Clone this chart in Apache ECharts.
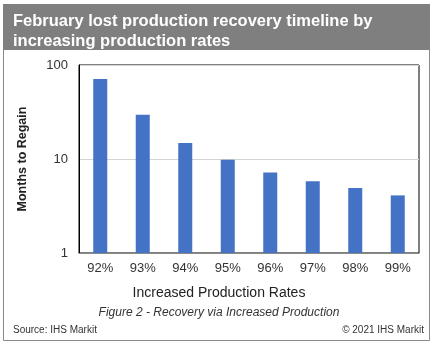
<!DOCTYPE html>
<html>
<head>
<meta charset="utf-8">
<style>
    html, body { margin: 0; padding: 0; background: #fff; }
    #chart { width: 438px; height: 351px; }
</style>
<script src="https://cdn.jsdelivr.net/npm/echarts@6/dist/echarts.min.js"></script>
</head>
<body>
<div id="chart"></div>
<script>
    // data
    var rates = ["92%", "93%", "94%", "95%", "96%", "97%", "98%", "99%"];
    var months = [71, 29.5, 14.8, 9.8, 7.2, 5.8, 4.9, 4.1];

    var font = "Liberation Sans, Arial, sans-serif";
    var myChart = echarts.init(document.getElementById('chart'));

    myChart.setOption({
        animation: false,
        textStyle: { fontFamily: font },
        graphic: [
            // outer frame
            { type: 'rect', shape: { x: 3.5, y: 4.5, width: 426, height: 336 },
              style: { fill: 'none', stroke: '#8a8a8a', lineWidth: 1 }, z: 0 },
            // grey title band
            { type: 'rect', shape: { x: 3, y: 4, width: 427, height: 46 },
              style: { fill: '#7f7f7f' }, z: 1 }
        ],
        title: [
            {
                text: "February lost production recovery timeline by\nincreasing production rates",
                left: 8, top: 6,
                textStyle: { color: "#fff", fontSize: 16.5, fontWeight: "bold", lineHeight: 20, fontFamily: font }
            },
            {
                // x axis title, centred on the whole figure
                text: "Increased Production Rates",
                left: 'center', top: 281,
                textStyle: { color: "#222", fontSize: 14, fontWeight: "normal", fontFamily: font }
            },
            {
                text: "Figure 2 - Recovery via Increased Production",
                left: 'center', top: 302,
                textStyle: { color: "#333", fontSize: 12, fontStyle: "italic", fontWeight: "normal", fontFamily: font }
            },
            {
                text: "Source: IHS Markit",
                left: 8, top: 320,
                textStyle: { color: "#333", fontSize: 10, fontWeight: "normal", fontFamily: font }
            },
            {
                text: "© 2021 IHS Markit",
                right: 9, top: 320,
                textStyle: { color: "#333", fontSize: 10, fontWeight: "normal", fontFamily: font }
            }
        ],
        grid: {
            left: 79, top: 65, right: 19, bottom: 98,
            show: true, borderColor: "#000", borderWidth: 1, backgroundColor: "transparent"
        },
        xAxis: {
            type: "category",
            data: rates,
            axisLine: { lineStyle: { color: "#888" } },
            axisTick: { show: false },
            axisLabel: { fontSize: 13, color: "#333", margin: 9 }
        },
        yAxis: {
            type: "log",
            logBase: 10,
            min: 1,
            max: 100,
            name: "Months to Regain",
            nameLocation: "middle",
            nameGap: 50,
            nameTextStyle: { fontSize: 12.5, fontWeight: "bold", color: "#222" },
            axisLine: { show: true, lineStyle: { color: "#000" } },
            axisTick: { show: false },
            axisLabel: { fontSize: 13, color: "#333", margin: 11 },
            splitLine: { lineStyle: { color: "#d4d4d4" } }
        },
        series: [
            {
                type: "bar",
                data: months,
                barWidth: 14,
                itemStyle: { color: "#4472c4" }
            }
        ]
    });
</script>
</body>
</html>
